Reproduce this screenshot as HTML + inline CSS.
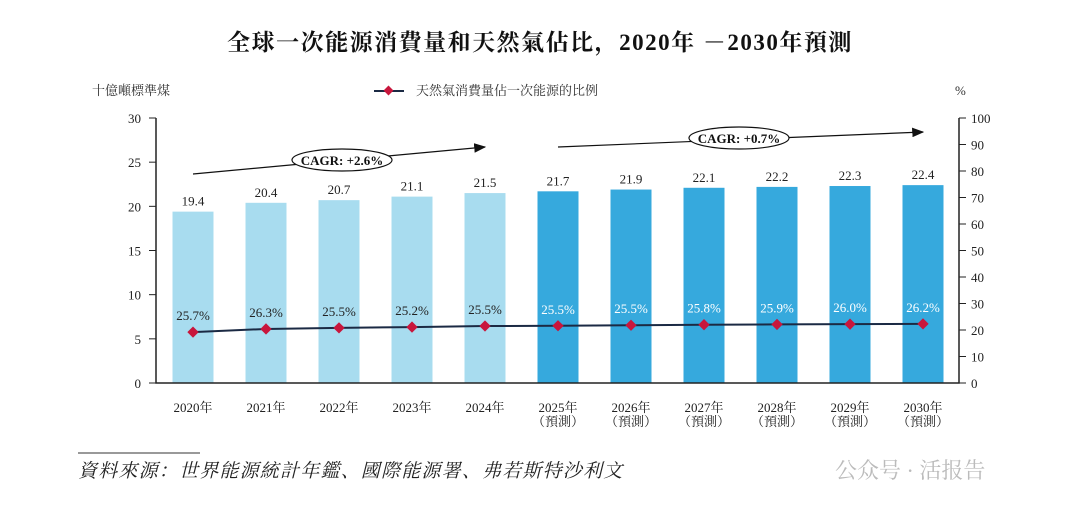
<!DOCTYPE html>
<html><head><meta charset="utf-8"><style>
body{margin:0;background:#fff;width:1080px;height:516px;overflow:hidden}
svg{display:block}
text{font-family:"Liberation Serif","Noto Serif CJK SC","Noto Sans CJK TC",serif}
</style></head><body>
<svg id="c" width="1080" height="516">
<text x="540" y="50" text-anchor="middle" font-size="23" font-weight="bold" letter-spacing="1.5" fill="#111">全球一次能源消費量和天然氣佔比，2020年 －2030年預測</text>
<text x="92" y="95" font-size="13" fill="#333">十億噸標準煤</text>
<text x="955" y="95" font-size="13" fill="#333">%</text>
<g>
<line x1="374" y1="91" x2="404" y2="91" stroke="#1b2a44" stroke-width="2"/>
<rect x="385" y="87" width="7" height="7" fill="#c8163c" transform="rotate(45 388.5 90.5)"/>
<text x="416" y="95" font-size="13" fill="#333">天然氣消費量佔一次能源的比例</text>
</g>
<g id="plot"></g>
<line x1="78" y1="453" x2="200" y2="453" stroke="#333" stroke-width="1"/>
<text x="78" y="477" font-size="19" font-style="italic" letter-spacing="1.2" fill="#222">資料來源：世界能源統計年鑑、國際能源署、弗若斯特沙利文</text>
<text x="835" y="478" font-size="22" fill="#bbb" font-family="Liberation Sans,Noto Sans CJK SC,sans-serif">公众号 · 活报告</text>
</svg>
<script>
const categories=["2020年","2021年","2022年","2023年","2024年","2025年","2026年","2027年","2028年","2029年","2030年"];
const forecast=[false,false,false,false,false,true,true,true,true,true,true];
const barValues=[19.4,20.4,20.7,21.1,21.5,21.7,21.9,22.1,22.2,22.3,22.4];
const shareLabels=["25.7%","26.3%","25.5%","25.2%","25.5%","25.5%","25.5%","25.8%","25.9%","26.0%","26.2%"];
const sharePlotted=[19.2,20.4,20.8,21.1,21.5,21.6,21.8,22.0,22.1,22.2,22.3];
const leftTicks=[0,5,10,15,20,25,30];
const rightTicks=[0,10,20,30,40,50,60,70,80,90,100];
const NS="http://www.w3.org/2000/svg";
const g=document.getElementById('plot');
const X0=156,X1=959,Y0=383,Y1=118;
const xC=i=>193+i*73;
const yL=v=>Y0-(v/30)*(Y0-Y1);
const yR=v=>Y0-(v/100)*(Y0-Y1);
function mk(t,a,p){const e=document.createElementNS(NS,t);for(const k in a)e.setAttribute(k,a[k]);(p||g).appendChild(e);return e;}
barValues.forEach((v,i)=>{
 const r=mk('rect',{x:xC(i)-20.5,y:yL(v),width:41,height:Y0-yL(v),fill:forecast[i]?'#36a9dd':'#a8dcef'});
 
 
 const t=mk('text',{x:xC(i),y:yL(v)-6,'text-anchor':'middle','font-size':13,fill:'#222'});t.textContent=v.toFixed(1);
 
 
 const c=mk('text',{x:xC(i),y:412,'text-anchor':'middle','font-size':13,fill:'#222'});c.textContent=categories[i];
 
 
 if(forecast[i]){const f=mk('text',{x:xC(i),y:426,'text-anchor':'middle','font-size':13,fill:'#222'});f.textContent='（預測）';
 
 }
});
const ax=mk('path',{d:`M${X0} ${Y1}V${Y0}H${X1}V${Y1}`,stroke:'#222','stroke-width':1.5,fill:'none'});


leftTicks.forEach(v=>{mk('line',{x1:X0-7,x2:X0,y1:yL(v),y2:yL(v),stroke:'#222'});
 const t=mk('text',{x:X0-15,y:yL(v)+5,'text-anchor':'end','font-size':13,fill:'#222'});t.textContent=v;
 
 });
rightTicks.forEach(v=>{mk('line',{x1:X1,x2:X1+7,y1:yR(v),y2:yR(v),stroke:'#222'});
 const t=mk('text',{x:X1+12,y:yR(v)+5,'font-size':13,fill:'#222'});t.textContent=v;
 
 });
const ln=mk('polyline',{points:sharePlotted.map((v,i)=>xC(i)+','+yR(v)).join(' '),fill:'none',stroke:'#1b2a44','stroke-width':2});


sharePlotted.forEach((v,i)=>{
 const d=mk('rect',{x:xC(i)-4,y:yR(v)-4,width:8,height:8,fill:'#c8163c',transform:`rotate(45 ${xC(i)} ${yR(v)})`});
 
 
 const t=mk('text',{x:xC(i),y:yR(v)-12,'text-anchor':'middle','font-size':13,fill:forecast[i]?'#fff':'#222'});t.textContent=shareLabels[i];
 
 
});
mk('defs',{}).innerHTML='<marker id="ah" markerWidth="10" markerHeight="8" refX="9" refY="4" orient="auto"><path d="M0 0L10 4L0 8z" fill="#111"/></marker>';
[[193,174,485,147,342,160,'CAGR: +2.6%'],[558,147,923,132,739,138,'CAGR: +0.7%']].forEach(a=>{
 const l=mk('line',{x1:a[0],y1:a[1],x2:a[2],y2:a[3],stroke:'#111','stroke-width':1.2,'marker-end':'url(#ah)'});
 
 
 const e=mk('ellipse',{cx:a[4],cy:a[5],rx:50,ry:11,fill:'#fff',stroke:'#111','stroke-width':1.2});
 
 
 const t=mk('text',{x:a[4],y:a[5]+5,'text-anchor':'middle','font-size':13,'font-weight':'bold',fill:'#111'});t.textContent=a[6];
 
 
});
</script>
</body></html>
